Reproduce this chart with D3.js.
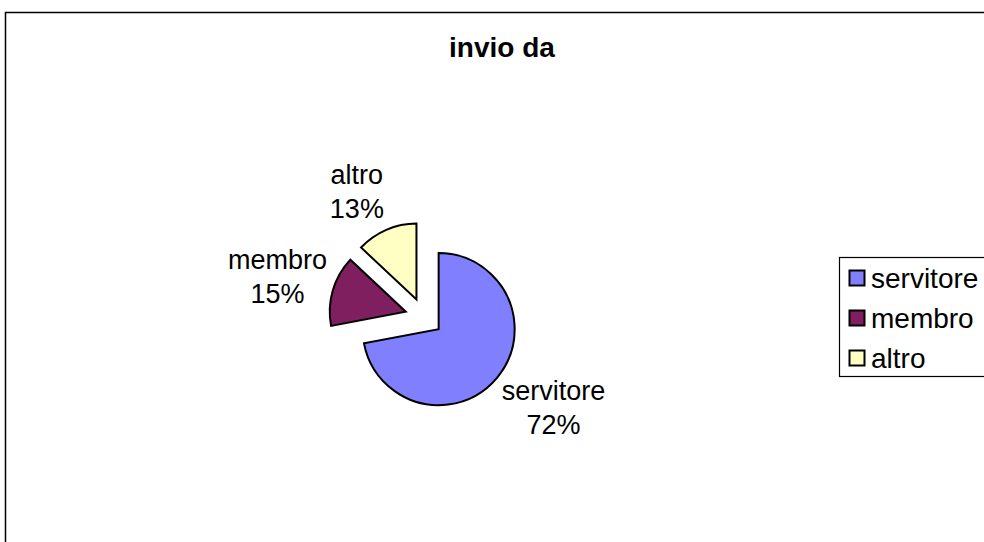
<!DOCTYPE html>
<html>
<head>
<meta charset="utf-8">
<script src="https://cdn.jsdelivr.net/npm/d3@7.9.0/dist/d3.min.js"></script>
<style>
  html, body { margin: 0; padding: 0; background: #fff; }
  svg { display: block; font-family: "Liberation Sans", Arial, sans-serif; }
</style>
</head>
<body>
<svg id="chart" width="984" height="542"></svg>
<script>
// data
const categories = ['servitore', 'membro', 'altro'];
const shares = [72, 15, 13];
const colors = ['#8080ff', '#7f1f5f', '#ffffc4'];
const title = 'invio da';

const width = 984, height = 542;
const center = { x: 424, y: 317 };
const radius = 76;
const explode = 19;

const svg = d3.select('#chart');

// outer chart frame (runs past the bottom/right edge like the original)
svg.append('rect')
  .attr('x', 5.5).attr('y', 12.5)
  .attr('width', 1000).attr('height', 600)
  .attr('fill', '#fff')
  .attr('stroke', '#000')
  .attr('stroke-width', 1.5);

svg.append('text')
  .attr('x', 502).attr('y', 57)
  .attr('text-anchor', 'middle')
  .attr('font-size', 28)
  .attr('font-weight', 'bold')
  .text(title);

const data = categories.map((c, i) => ({ name: c, value: shares[i], color: colors[i] }));

const pie = d3.pie().sort(null).value(d => d.value);
const arc = d3.arc().innerRadius(0).outerRadius(radius);
const arcs = pie(data);

const g = svg.append('g').attr('transform', `translate(${center.x},${center.y})`);

const mid = d => (d.startAngle + d.endAngle) / 2;

g.selectAll('path')
  .data(arcs)
  .join('path')
  .attr('d', arc)
  .attr('transform', d => {
    const a = mid(d);
    return `translate(${Math.sin(a) * explode},${-Math.cos(a) * explode})`;
  })
  .attr('fill', d => d.data.color)
  .attr('stroke', '#000')
  .attr('stroke-width', 2)
  .attr('stroke-linejoin', 'miter');

const labelFont = 27;
const lineGap = 34;
const fmt = d3.format('.0%');

const labels = g.selectAll('g.label')
  .data(arcs)
  .join('g')
  .attr('class', 'label');

labels.each(function (d) {
  const sel = d3.select(this);
  const t = sel.append('text')
    .attr('text-anchor', 'middle')
    .attr('font-size', labelFont)
    .attr('fill', '#000');
  t.append('tspan').attr('x', 0).attr('y', 0).text(d.data.name);
  t.append('tspan').attr('x', 0).attr('y', lineGap).text(fmt(d.data.value / 100));

  const bb = t.node().getBBox();
  const halfW = bb.width / 2, halfH = bb.height / 2;
  const a = mid(d);
  const rl = radius + explode + 6;
  const px = Math.sin(a) * rl, py = -Math.cos(a) * rl;
  // box sits beside the bisector point, pushed sideways and a bit up/down
  const sx = Math.sign(Math.sin(a));
  const sy = Math.max(-1, Math.min(1, -Math.cos(a) * 1.3));
  const cx = px + sx * halfW, cy = py + sy * halfH;
  const bcx = bb.x + halfW, bcy = bb.y + halfH;
  sel.attr('transform', `translate(${cx - bcx},${cy - bcy})`);
});

// legend
const legend = svg.append('g');
legend.append('rect')
  .attr('x', 839.5).attr('y', 257.5)
  .attr('width', 160).attr('height', 119)
  .attr('fill', '#fff')
  .attr('stroke', '#000')
  .attr('stroke-width', 1.2);

const rowY = d3.scalePoint().domain(categories).range([278, 358]);

const items = legend.selectAll('g.item')
  .data(data)
  .join('g')
  .attr('class', 'item')
  .attr('transform', d => `translate(849,${rowY(d.name)})`);

items.append('rect')
  .attr('x', 0.5).attr('y', -7.5)
  .attr('width', 15).attr('height', 15)
  .attr('fill', d => d.color)
  .attr('stroke', '#000')
  .attr('stroke-width', 2);

items.append('text')
  .attr('x', 22).attr('y', 9.5)
  .attr('font-size', 28)
  .text(d => d.name);
</script>
</body>
</html>
